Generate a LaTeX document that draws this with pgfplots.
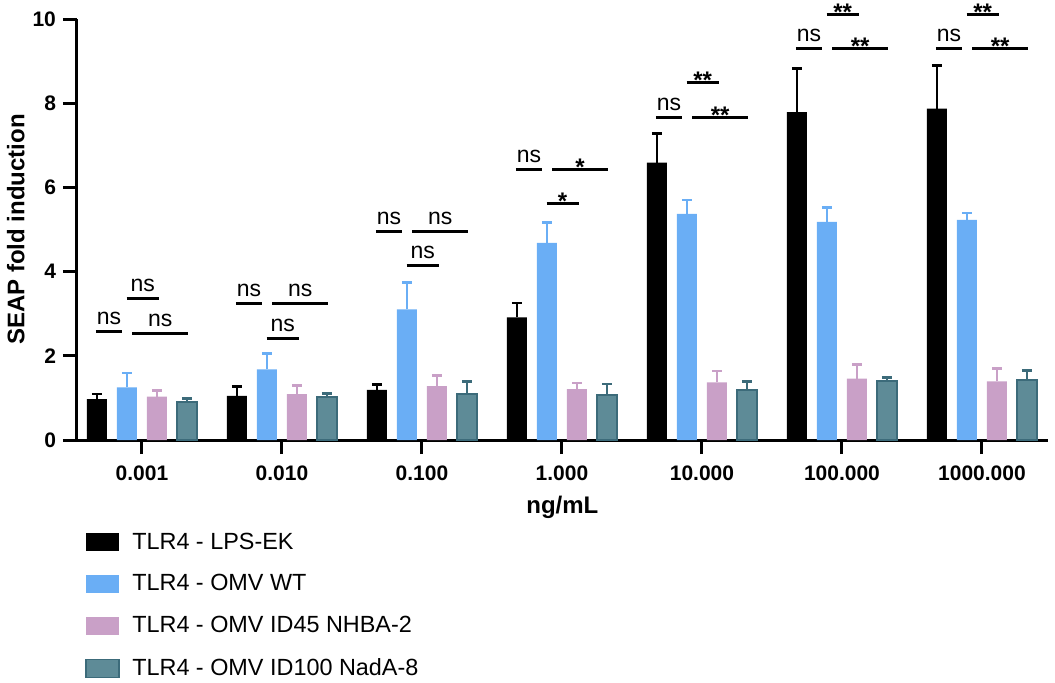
\documentclass[border=0pt]{standalone}
\usepackage{pgfplots}
\pgfplotsset{compat=1.18}
\usepackage{pgfplotstable}
\usepackage{fontspec}
\setmainfont{Liberation Sans}
\definecolor{cblue}{HTML}{6AAEF5}
\definecolor{cpink}{HTML}{C9A0C7}
\definecolor{cteal}{HTML}{5E8B97}
\definecolor{ctealdk}{HTML}{3C6B7A}
\pgfplotstableread{
x y e
0 0.97 0.12
1 1.05 0.22
2 1.19 0.13
3 2.91 0.34
4 6.59 0.69
5 7.79 1.04
6 7.87 1.02
}\tblack
\pgfplotstableread{
x y e
0 1.25 0.34
1 1.68 0.37
2 3.10 0.64
3 4.68 0.49
4 5.37 0.33
5 5.18 0.34
6 5.23 0.16
}\tblue
\pgfplotstableread{
x y e
0 1.03 0.14
1 1.09 0.20
2 1.28 0.25
3 1.21 0.14
4 1.37 0.27
5 1.46 0.33
6 1.39 0.31
}\tpink
\pgfplotstableread{
x y e
0 0.90 0.08
1 1.02 0.08
2 1.09 0.30
3 1.07 0.26
4 1.19 0.20
5 1.40 0.08
6 1.43 0.22
}\tteal
\newcommand\nsl[3]{\draw[line width=1.5pt] (axis cs:#1,#3) -- (axis cs:#2,#3) node[midway, anchor=base, yshift=3.5pt, font=\fontsize{11.5}{12}\selectfont, inner sep=0pt] {ns};}
\newcommand\stl[4]{\draw[line width=1.5pt] (axis cs:#1,#3) -- (axis cs:#2,#3) node[midway, anchor=base, yshift=-3pt, font=\bfseries\fontsize{12}{12}\selectfont, inner sep=0pt] {#4};}
\begin{document}
\begin{tikzpicture}
\begin{axis}[
  x=70pt, y=21.05pt,
  xmin=-0.464, xmax=6.47, ymin=0, ymax=10,
  clip=false,
  axis lines*=left,
  axis line style={line width=1.5pt},
  tick align=outside,
  major tick length=7pt,
  tick style={line width=1.5pt, black},
  xtick={0,1,2,3,4,5,6},
  xticklabels={0.001,0.010,0.100,1.000,10.000,100.000,1000.000},
  ytick={0,2,4,6,8,10},
  /pgf/number format/assume math mode=true,
  ticklabel style={font=\bfseries\fontsize{10.5}{12}\selectfont},
  xticklabel style={yshift=-2.5pt},
  xlabel={ng/mL},
  ylabel={SEAP fold induction},
  xlabel style={at={(axis description cs:0.5,0)}, anchor=center, yshift=-33.5pt, font=\bfseries\fontsize{12}{14}\selectfont},
  ylabel style={at={(axis description cs:0,0.5)}, anchor=center, yshift=30.6pt, font=\bfseries\fontsize{12}{14}\selectfont},
  ybar=5pt, bar width=10pt,
  legend style={at={(axis description cs:0,0)}, anchor=north west, xshift=4pt, yshift=-46.2pt,
    draw=none, fill=none, inner sep=0pt, row sep=11.25pt, column sep=6.3pt,
    nodes={inner sep=0pt}, font=\fontsize{11.7}{13}\selectfont},
  legend cell align=left,
  legend image code/.code={\path[#1] (0pt,-4.5pt) rectangle (16.35pt,4.5pt);},
]
\addplot[fill=black, draw=none,
  error bars/.cd, y dir=plus, y explicit,
  error bar style={line width=1.3pt, black},
  error mark options={rotate=90, mark size=2.5pt, line width=1.3pt, black}]
  table[x=x, y=y, y error=e] {\tblack};
\addlegendentry{TLR4 - LPS-EK}
\addplot[fill=cblue, draw=none,
  error bars/.cd, y dir=plus, y explicit,
  error bar style={line width=1.3pt, cblue},
  error mark options={rotate=90, mark size=2.5pt, line width=1.3pt, cblue}]
  table[x=x, y=y, y error=e] {\tblue};
\addlegendentry{TLR4 - OMV WT}
\addplot[fill=cpink, draw=none,
  error bars/.cd, y dir=plus, y explicit,
  error bar style={line width=1.3pt, cpink},
  error mark options={rotate=90, mark size=2.5pt, line width=1.3pt, cpink}]
  table[x=x, y=y, y error=e] {\tpink};
\addlegendentry{TLR4 - OMV ID45 NHBA-2}
\addplot[fill=cteal, draw=ctealdk, line width=0.8pt,
  error bars/.cd, y dir=plus, y explicit,
  error bar style={line width=1.3pt, ctealdk},
  error mark options={rotate=90, mark size=2.5pt, line width=1.3pt, ctealdk}]
  table[x=x, y=y, y error=e] {\tteal};
\addlegendentry{TLR4 - OMV ID100 NadA-8}
% significance annotations
\nsl{-0.33}{-0.14}{2.58}
\nsl{-0.07}{0.33}{2.52}
\nsl{-0.11}{0.12}{3.35}
\nsl{0.67}{0.86}{3.25}
\nsl{0.93}{1.33}{3.25}
\nsl{0.89}{1.12}{2.42}
\nsl{1.67}{1.86}{4.96}
\nsl{1.93}{2.33}{4.96}
\nsl{1.89}{2.12}{4.14}
\nsl{2.67}{2.86}{6.43}
\stl{2.93}{3.33}{6.43}{*}
\stl{2.89}{3.12}{5.61}{*}
\nsl{3.67}{3.86}{7.66}
\stl{3.93}{4.33}{7.66}{**}
\stl{3.89}{4.12}{8.50}{**}
\nsl{4.67}{4.86}{9.29}
\stl{4.93}{5.33}{9.29}{**}
\stl{4.89}{5.12}{10.1}{**}
\nsl{5.67}{5.86}{9.29}
\stl{5.93}{6.33}{9.29}{**}
\stl{5.89}{6.12}{10.1}{**}
\end{axis}
\pgfresetboundingbox
\path[use as bounding box] ([shift={(-38.5pt,-121pt)}]current axis.south west) rectangle ([shift={(489pt,220pt)}]current axis.south west);
\end{tikzpicture}
\end{document}
